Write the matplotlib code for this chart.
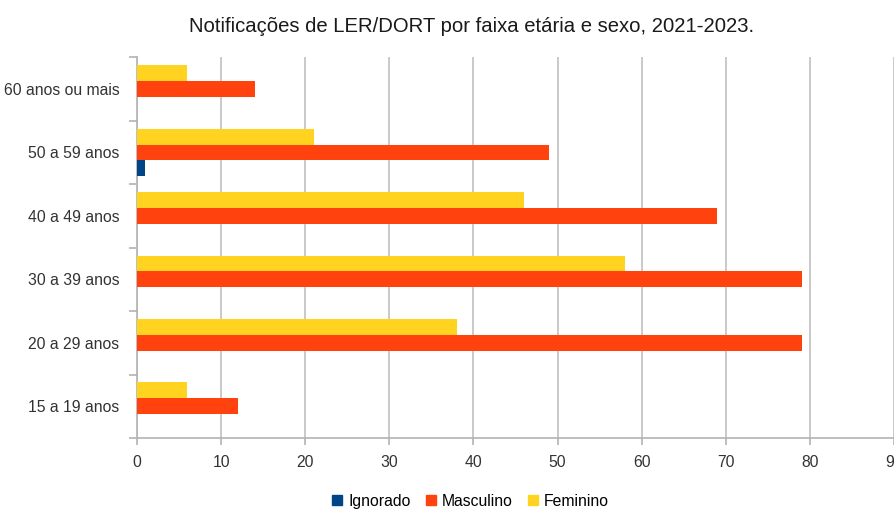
import numpy as np
import matplotlib.pyplot as plt
from matplotlib.patches import Patch

plt.rcParams['font.family'] = ['Liberation Sans', 'DejaVu Sans']

# categories, bottom to top
faixas = ['15 a 19 anos', '20 a 29 anos', '30 a 39 anos', '40 a 49 anos',
          '50 a 59 anos', '60 anos ou mais']
ignorado = [0, 0, 0, 0, 1, 0]
masculino = [12, 79, 79, 69, 49, 14]
feminino = [6, 38, 58, 46, 21, 6]

series = ['Ignorado', 'Masculino', 'Feminino']
cores = ['#004586', '#ff420e', '#ffd320']

fig = plt.figure(figsize=(8.95, 5.09), dpi=100)
ax = fig.add_axes([0.153, 0.1395, 0.846, 0.748])

y = np.arange(len(faixas))
h = 0.25
ax.barh(y - h, ignorado, height=h, color=cores[0], zorder=3)
ax.barh(y, masculino, height=h, color=cores[1], zorder=3)
ax.barh(y + h, feminino, height=h, color=cores[2], zorder=3)

ax.set_xlim(0, 90)
ax.set_ylim(-0.5, len(faixas) - 0.5)
ax.set_xticks(np.arange(0, 91, 10))
ax.grid(axis='x', color='#c0c0c0', linewidth=1.2, zorder=0)

# category boundaries get tick marks, centres get labels
ax.set_yticks(np.arange(-0.5, len(faixas), 1.0))
ax.set_yticklabels([])
ax.set_yticks(y, minor=True)
ax.set_yticklabels(faixas, minor=True)
ax.tick_params(axis='y', which='major', length=6, color='#b3b3b3', width=1.2)
ax.tick_params(axis='y', which='minor', length=0, pad=12.5, labelsize=11.3, labelcolor='#333333')
ax.tick_params(axis='x', length=5, color='#b3b3b3', width=1.2, pad=7,
               labelsize=11.3, labelcolor='#333333')

for s in ['top', 'right']:
    ax.spines[s].set_visible(False)
for s in ['left', 'bottom']:
    ax.spines[s].set_color('#b3b3b3')
    ax.spines[s].set_linewidth(1.2)

fig.suptitle('Notificações de LER/DORT por faixa etária e sexo, 2021-2023.',
             x=0.527, y=0.967, fontsize=14.6, color='#1a1a1a')

handles = [Patch(color=c) for c in cores]
fig.legend(handles, series, loc='lower center', bbox_to_anchor=(0.526, -0.027),
           ncol=3, frameon=False, fontsize=11.3, handlelength=0.6, handleheight=0.6,
           handletextpad=0.4, columnspacing=1.0)

fig.savefig('out.png', dpi=100)
